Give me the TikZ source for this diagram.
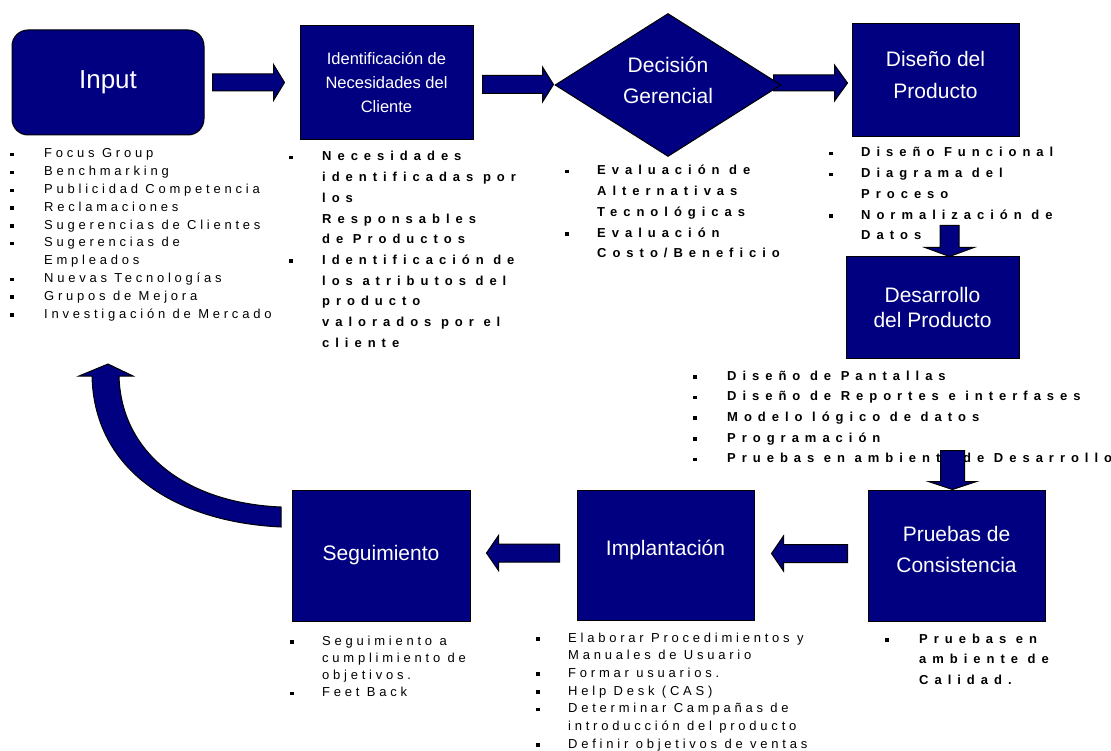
\documentclass[tikz,border=0pt]{standalone}
\usepackage{fontspec}
\setmainfont{Liberation Sans}
\newfontfamily\listfont[LetterSpace=29]{Liberation Sans}
\newfontfamily\listboldfont[LetterSpace=46]{Liberation Sans}
\usepackage{tikz}
\usetikzlibrary{positioning, shapes.geometric, calc}
\pgfdeclarelayer{back}
\pgfsetlayers{back,main}
\definecolor{boxblue}{RGB}{0,0,128}
\newcommand{\sqb}{\rule[1.5pt]{3.5pt}{3.5pt}}
\newcommand{\lowstrut}[1]{\rule[-#1]{0pt}{0pt}}
% block arrow: tail point, rotation, length, shaft half width, head half width, head length
\newcommand{\blockarrow}[6]{%
    \draw[blockarrow, shift={#1}, rotate=#2] (0,-#4) -- ({#3-#6},-#4) -- ({#3-#6},-#5) -- (#3,0)
        -- ({#3-#6},#5) -- ({#3-#6},#4) -- (0,#4) -- cycle;}
\tikzset{
    stage/.style={rectangle, draw=black, line width=1pt, fill=boxblue, text=white, align=center, inner sep=0pt},
    stagetitle/.style={font=\fontsize{21}{32}\selectfont},
    blockarrow/.style={draw=black, line width=1pt, fill=boxblue, line join=miter},
    plainlist/.style={inner sep=0pt, anchor=base west, font=\fontsize{13}{17.8}\selectfont\listfont},
    boldlist/.style={inner sep=0pt, anchor=base west, font=\fontsize{13}{20.7}\selectfont\listboldfont\bfseries}
}

\begin{document}
\begin{tikzpicture}[x=1pt, y=-1pt]
        \useasboundingbox (0,0) rectangle (1111,751);
        \begin{pgfonlayer}{back}
            \fill[white] (0,0) rectangle (1111,751);
        \end{pgfonlayer}

        % Top row of stages
        \node[stage, rounded corners=16pt, minimum width=192pt, minimum height=105pt, font=\fontsize{26}{30}\selectfont] (input) at (108,82.5) {Input};
        \node[stage, minimum width=173pt, minimum height=114pt, font=\fontsize{16.5}{24}\selectfont] (ident) at (386.5,83) {Identificación de\\Necesidades del\\Cliente};
        \node[stage, stagetitle, diamond, aspect=1.58, minimum width=226pt, minimum height=143pt] (decision) at (668,85) {Decisión\\[-1pt]Gerencial\lowstrut{10pt}};
        \node[stage, stagetitle, minimum width=167pt, minimum height=113pt] (diseno) at (935.5,80.5) {Diseño del\\Producto\lowstrut{12pt}};

        % Right column and bottom row
        \node[stage, font=\fontsize{21}{25}\selectfont, minimum width=173pt, minimum height=101pt] (desa) at (932.5,307.5) {Desarrollo\\del Producto};
        \node[stage, font=\fontsize{21}{31}\selectfont, minimum width=177pt, minimum height=131pt] (prueb) at (956.5,555.5) {Pruebas de\\Consistencia\lowstrut{13pt}};
        \node[stage, stagetitle, minimum width=177pt, minimum height=130pt] (impl) at (665.5,555) {Implantación\lowstrut{14pt}};
        \node[stage, stagetitle, minimum width=178pt, minimum height=131pt] (segu) at (381,555.5) {Seguimiento};

        % Activity lists
        \node[plainlist] (inputlist) at (10,158) {\begin{tabular}[t]{@{}p{34pt}@{}l@{}}
            \sqb & Focus Group\\
            \sqb & Benchmarking\\
            \sqb & Publicidad Competencia\\
            \sqb & Reclamaciones\\
            \sqb & Sugerencias de Clientes\\
            \sqb & Sugerencias de\\
                 & Empleados\\
            \sqb & Nuevas Tecnologías\\
            \sqb & Grupos de Mejora\\
            \sqb & Investigación de Mercado
        \end{tabular}};
        \node[boldlist] (identlist) at (289,161) {\begin{tabular}[t]{@{}p{33pt}@{}l@{}}
            \sqb & Necesidades\\
                 & identificadas por\\
                 & los\\
                 & Responsables\\
                 & de Productos\\
            \sqb & Identificación de\\
                 & los atributos del\\
                 & producto\\
                 & valorados por el\\
                 & cliente
        \end{tabular}};
        \node[boldlist] (decisionlist) at (565,175) {\begin{tabular}[t]{@{}p{32pt}@{}l@{}}
            \sqb & Evaluación de\\
                 & Alternativas\\
                 & Tecnológicas\\
            \sqb & Evaluación\\
                 & Costo/Beneficio
        \end{tabular}};
        \node[boldlist] (disenolist) at (829,157) {\begin{tabular}[t]{@{}p{32pt}@{}l@{}}
            \sqb & Diseño Funcional\\
            \sqb & Diagrama del\\
                 & Proceso\\
            \sqb & Normalización de\\
                 & Datos
        \end{tabular}};
        \node[boldlist] (desalist) at (693,380) {\begin{tabular}[t]{@{}p{34pt}@{}l@{}}
            \sqb & Diseño de Pantallas\\
            \sqb & Diseño de Reportes e interfases\\
            \sqb & Modelo lógico de datos\\
            \sqb & Programación\\
            \sqb & Pruebas en ambiente de Desarrollo
        \end{tabular}};
        \node[boldlist] (pruebaslist) at (885,643) {\begin{tabular}[t]{@{}p{34pt}@{}l@{}}
            \sqb & Pruebas en\\
                 & ambiente de\\
                 & Calidad.
        \end{tabular}};
        \node[plainlist, font=\fontsize{13}{17.7}\selectfont\listfont] (impllist) at (536,642) {\begin{tabular}[t]{@{}p{32pt}@{}l@{}}
            \sqb & Elaborar Procedimientos y\\
                 & Manuales de Usuario\\
            \sqb & Formar usuarios.\\
            \sqb & Help Desk (CAS)\\
            \sqb & Determinar Campañas de\\
                 & introducción del producto\\
            \sqb & Definir objetivos de ventas
        \end{tabular}};
        \node[plainlist, font=\fontsize{13}{17.3}\selectfont\listfont] (segulist) at (290,645) {\begin{tabular}[t]{@{}p{32pt}@{}l@{}}
            \sqb & Seguimiento a\\
                 & cumplimiento de\\
                 & objetivos.\\
            \sqb & Feet Back
        \end{tabular}};

        % Block arrows between stages
        \blockarrow{([xshift=8pt]input.east)}{0}{72}{8.5}{18}{11}
        \blockarrow{([xshift=9pt,yshift=-1.5pt]ident.east)}{0}{71}{9}{17.5}{11}
        \begin{pgfonlayer}{back}
            \blockarrow{([xshift=-8pt,yshift=2pt]decision.east)}{0}{74}{8}{18}{13}
        \end{pgfonlayer}
        \blockarrow{([xshift=17pt,yshift=31pt]desa.north)}{-90}{31}{9.5}{24.5}{9}
        \blockarrow{([xshift=-4pt,yshift=39pt]prueb.north)}{-90}{39}{12}{24}{8}
        \blockarrow{([xshift=-20pt,yshift=2pt]prueb.west)}{180}{76}{9}{17.5}{12}
        \blockarrow{([xshift=-17pt,yshift=2pt]impl.west)}{180}{73}{9}{17.5}{12}

        % Curved return arrow
        \draw[blockarrow] (281,527) .. controls (175,522) and (94,470) .. (92,376)
            -- (79,376) -- (108,364) -- (133,376) -- (119,376)
            .. controls (121,452) and (185,503) .. (281,507) -- cycle;
\end{tikzpicture}
\end{document}
